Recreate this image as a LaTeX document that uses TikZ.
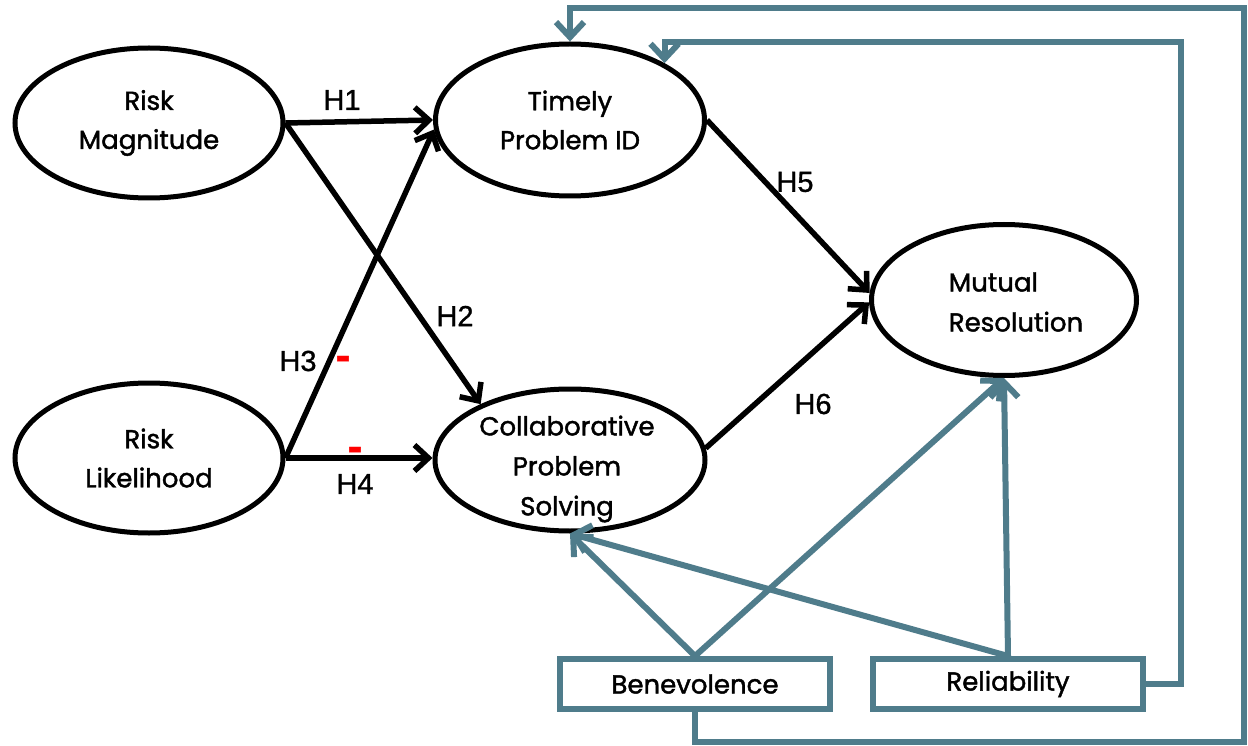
\documentclass[tikz,border=0pt]{standalone}
\usepackage{fontspec}
\setmainfont{Poppins}
\newfontfamily\tfont{Poppins}[FakeBold=1.6]
\newfontfamily\hfont{Liberation Sans}[FakeBold=1.0]
\usetikzlibrary{arrows.meta,shapes.geometric}
\definecolor{teal1}{RGB}{79,124,139}
\begin{document}
\begin{tikzpicture}[x=1pt,y=-1pt,
  ell/.style={ellipse,draw=black,line width=5pt,minimum width=268pt,minimum height=150pt,inner sep=0pt,font=\tfont\fontsize{26}{39}\selectfont,align=center},
  txt/.style={inner sep=0pt,font=\tfont\fontsize{26}{40}\selectfont,align=center},
  hyp/.style={font=\hfont\fontsize{29}{34}\selectfont,inner sep=0pt},
  neg/.style={font=\hfont\bfseries\fontsize{44}{44}\selectfont,text=red,inner sep=0pt},
  harrow/.style={draw=black,line width=5.5pt,-{Straight Barb[length=14pt,width=26pt]}},
  tarrow/.style={draw=teal1,line width=6pt,-{Straight Barb[length=15pt,width=28pt]}},
  tbox/.style={draw=teal1,line width=6pt,minimum width=270pt,minimum height=50pt,inner sep=0pt,font=\tfont\fontsize{26}{30}\selectfont}]

\useasboundingbox[fill=white] (0,0) rectangle (1248,746);

% ellipses
\node[ell] (rm) at (149,123) {Risk\\Magnitude};
\node[ell] (rl) at (149,458) {Risk\\Likelihood};
\node[ell,minimum height=152pt,minimum width=269pt] (tpi) at (570,120) {Timely\\Problem ID};
\node[ell,minimum width=270pt,minimum height=142pt] (cps) at (570,460) {};
\node[txt] (cpst) at (567,469) {Collaborative\\Problem\\Solving};
\node[ell,minimum width=265pt,minimum height=151pt] (mr) at (1004,300) {};
\node[txt,align=left] (mrt) at (1016,302) {Mutual\\Resolution};

% boxes
\node[tbox] (ben) at (695,684) {Benevolence};
\node[tbox] (rel) at (1008,684) {Reliability};

% hypotheses
\draw[harrow] (rm.east) -- (tpi.west);
\draw[harrow] (rm.east) -- (cps.148);
\draw[harrow] (rl.east) -- (tpi.184);
\draw[harrow] (rl.east) -- (rl.east -| cps.west);
\draw[harrow] (tpi.east) -- (mr.177);
\draw[harrow] (cps.5) -- (mr.181);

\node[hyp] (h1) at (342,100) {H1};
\node[hyp] (h2) at (455,316) {H2};
\node[hyp] (h3) at (298,361) {H3};
\node[hyp] (h4) at (355,484) {H4};
\node[hyp] (h5) at (795,182) {H5};
\node[hyp] (h6) at (813,404) {H6};
\node[neg] (m3) at (343,363) {-};
\node[neg] (m4) at (355,454) {-};

% trust arrows
\draw[tarrow] (ben.north) -- (cps.south);
\draw[tarrow] (ben.north) -- (mr.south);
\draw[tarrow] (rel.north) -- (cps.south);
\draw[tarrow] (rel.north) -- (mr.south);

% feedback loops
\coordinate (c1) at (1181,42);
\coordinate (c2) at (696,742);
\coordinate (c3) at (1244,8);
\draw[tarrow] (rel.east) -| (c1) -| (tpi.31.5);
\draw[tarrow] (ben.south) -- (ben.south |- c2) -| (c3) -| (tpi.north);
\end{tikzpicture}
\end{document}
